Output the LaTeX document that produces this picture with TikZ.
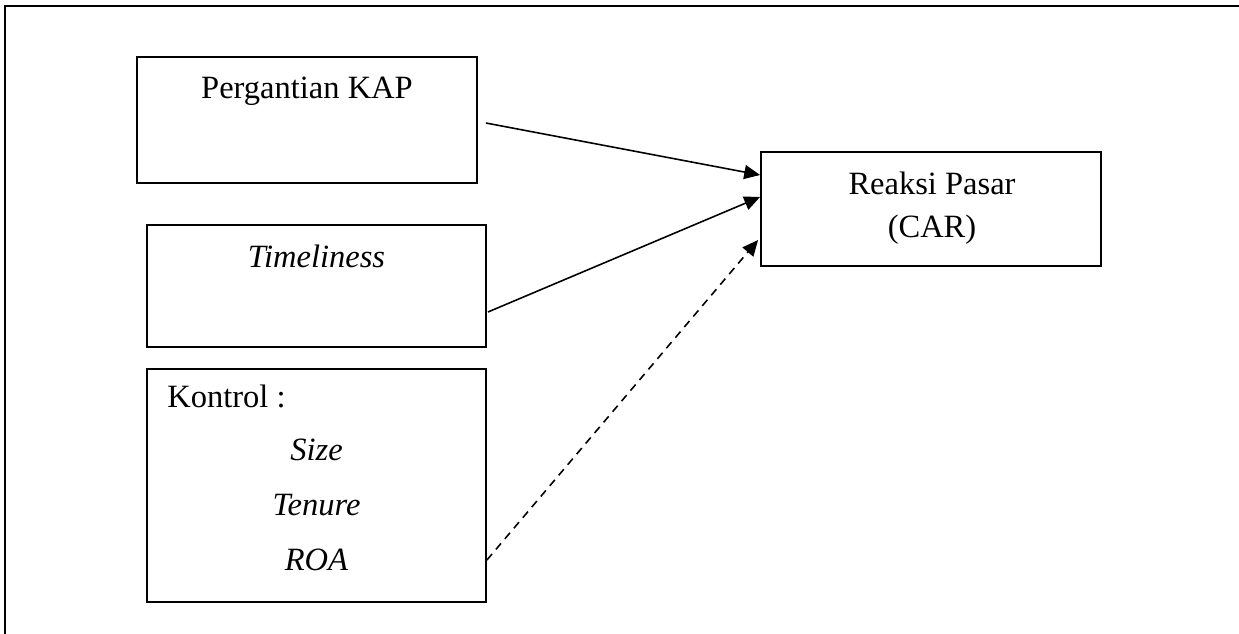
\documentclass[tikz,border=0pt]{standalone}
\usepackage{fontspec}
\setmainfont{Liberation Serif}
\usetikzlibrary{positioning, arrows.meta, calc}
\tikzset{
	>={Triangle[length=9pt, width=8pt]},
	box/.style={draw, line width=1.1pt, inner sep=0pt},
	lbl/.style={anchor=base, inner sep=0pt, font=\fontsize{18.5}{22}\selectfont},
	link/.style={->, line width=0.9pt},
}

\begin{document}
\begin{tikzpicture}[x=0.02cm, y=-0.02cm]
			\useasboundingbox (0,0) rectangle (1239,633);
			\draw[line width=1.1pt] (5,640) -- (5,6) -- (1245,6);
			
			\node[box, minimum width=6.8cm, minimum height=2.52cm] (KAP) at (307,120) {};
			\node[box, minimum width=6.78cm, minimum height=2.44cm] (TIME) at (316.5,286) {};
			\node[box, minimum width=6.78cm, minimum height=4.66cm] (KONTROL) at (316.5,485.5) {};
			\node[box, minimum width=6.8cm, minimum height=2.28cm] (CAR) at (931,209) {};
			
			\node[lbl] (tKAP) at (307,98) {Pergantian KAP};
			\node[lbl] (tTIME) at (316.5,267) {\textit{Timeliness}};
			\node[lbl, anchor=base west] (tKONTROL) at (167,407) {Kontrol :};
			\node[lbl] (tSIZE) at (316.5,460) {\textit{Size}};
			\node[lbl] (tTENURE) at (316.5,515) {\textit{Tenure}};
			\node[lbl] (tROA) at (316.5,570) {\textit{ROA}};
			\node[lbl] (tREAKSI) at (932,194) {Reaksi Pasar};
			\node[lbl] (tCAR) at (932,237) {(CAR)};
			
			\draw[link] ($(KAP.east)+(8,3)$) -- ($(CAR.west)+(0,-34)$);
			\draw[link] ($(TIME.east)+(1,26)$) -- ($(CAR.west)+(0,-12)$);
			\draw[link, dash pattern=on 4.5pt off 3.4pt] ($(KONTROL.east)+(0,74.5)$) -- ($(CAR.west)+(-2,31)$);
		\end{tikzpicture}
\end{document}
